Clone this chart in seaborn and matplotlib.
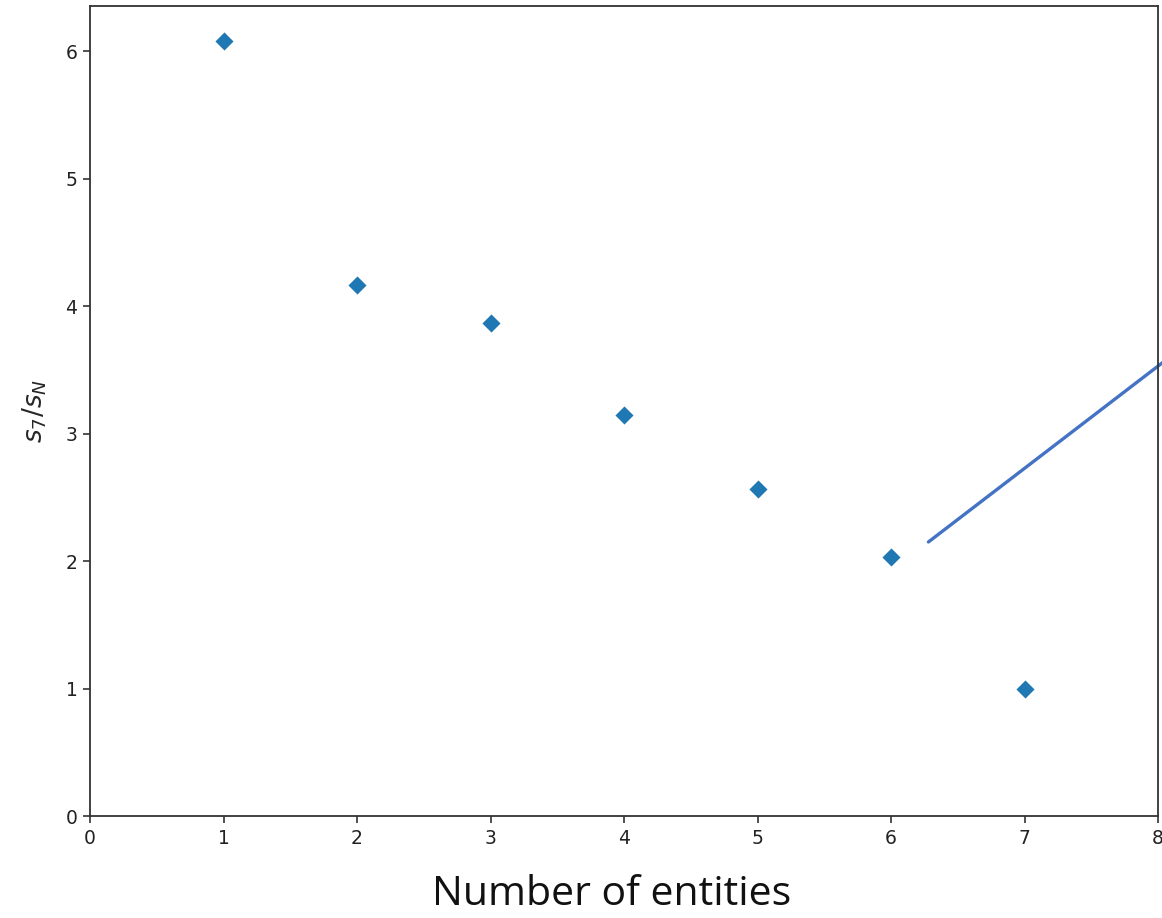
import matplotlib
matplotlib.use("Agg")
import matplotlib.pyplot as plt
import seaborn as sns
import pandas as pd

# 値は図から読み取り
entities = [1, 2, 3, 4, 5, 6, 7]
ratio = [6.08, 4.165, 3.865, 3.145, 2.565, 2.03, 1.0]
x_ticks = [0, 1, 2, 3, 4, 5, 6, 7, 8]
y_ticks = [0, 1, 2, 3, 4, 5, 6]
# 右側の注釈線（データ座標）
arrow_x = [6.28, 8.05]
arrow_y = [2.15, 3.57]

sns.set_theme(style="ticks")
plt.rcParams["font.family"] = ["DejaVu Sans"]

df = pd.DataFrame({"entities": entities, "ratio": ratio})

fig = plt.figure(figsize=(11.62, 9.18), dpi=100)
ax = fig.add_axes([0.0775, 0.1111, 0.9191, 0.8824])

sns.scatterplot(data=df, x="entities", y="ratio", marker="D", s=85,
                color="#1f77b4", linewidth=0, ax=ax)

ax.set_xlim(0, 8)
ax.set_ylim(0, 6.355)
ax.set_xticks(x_ticks)
ax.set_yticks(y_ticks)
ax.tick_params(labelsize=13.5, length=5, width=1.2, color="#333333",
               labelcolor="#222222", pad=4)
for sp in ax.spines.values():
    sp.set_linewidth(1.3)
    sp.set_color("#333333")

ax.set_xlabel("")
ax.set_ylabel(r"$s_7/s_N$", fontsize=19, labelpad=12)

ax.plot(arrow_x, arrow_y, color="#4472C4", linewidth=2.4, clip_on=False)

fig.text(0.526, 0.0142, "Number of entities", fontsize=29.5,
         family=["Open Sans", "DejaVu Sans"], ha="center", va="baseline",
         color="#111111")

fig.savefig("out.png", dpi=100)
